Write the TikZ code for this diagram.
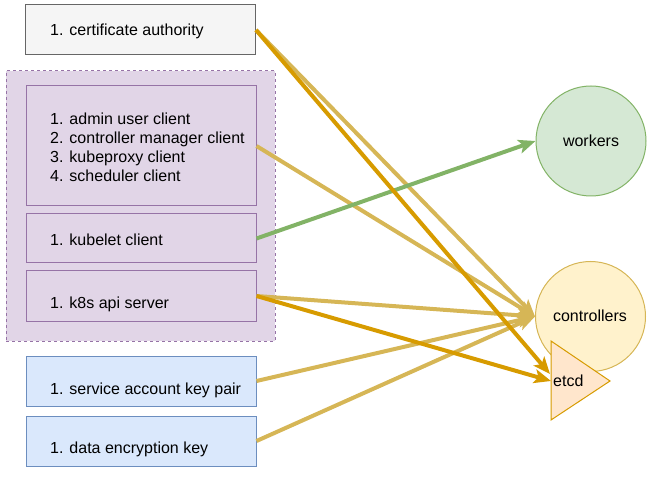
\documentclass[tikz,border=0pt]{standalone}
\usepackage{fontspec}
\setmainfont{Liberation Sans}
\usetikzlibrary{arrows.meta}
\definecolor{grayfill}{HTML}{F5F5F5}
\definecolor{graydraw}{HTML}{666666}
\definecolor{purpfill}{HTML}{E1D5E7}
\definecolor{purpdraw}{HTML}{9673A6}
\definecolor{bluefill}{HTML}{DAE8FC}
\definecolor{bluedraw}{HTML}{6C8EBF}
\definecolor{greenfill}{HTML}{D5E8D4}
\definecolor{greendraw}{HTML}{82B366}
\definecolor{yelfill}{HTML}{FFF2CC}
\definecolor{yeldraw}{HTML}{D6B656}
\definecolor{orfill}{HTML}{FFE6CC}
\definecolor{ordraw}{HTML}{D79B00}
\tikzset{
  box/.style={draw, line width=1pt, minimum width=230pt, inner sep=0pt},
  txt/.style={anchor=west, inner sep=0pt, font=\fontsize{16}{19}\selectfont, align=left},
  ctxt/.style={inner sep=0pt, font=\fontsize{16}{19}\selectfont},
  circ/.style={circle, draw, line width=1pt, minimum size=110pt, inner sep=0pt},
  conn/.style={line width=4pt, -{Stealth[length=17pt,width=14pt,inset=4pt]}},
}
\begin{document}
\begin{tikzpicture}[x=1pt,y=-1pt]
\useasboundingbox (0,0) rectangle (651,497);
% group
\node[draw=purpdraw, fill=purpfill, line width=1pt, dash pattern=on 3pt off 3pt,
      minimum width=269pt, minimum height=270pt, inner sep=0pt] (grp) at (140.5,206) {};
% boxes
\node[box, draw=graydraw, fill=grayfill, minimum height=50pt] (ca) at (140.5,30) {};
\node[txt] (catxt) at (50,31.5) {1. certificate authority};
\node[box, draw=purpdraw, fill=purpfill, minimum height=120pt] (cl) at (141,146) {};
\node[txt] (cltxt) at (50,147.5) {1. admin user client\\2. controller manager client\\3. kubeproxy client\\4. scheduler client};
\node[box, draw=purpdraw, fill=purpfill, minimum height=49pt] (kc) at (141,238.5) {};
\node[txt] (kctxt) at (50,240) {1. kubelet client};
\node[box, draw=purpdraw, fill=purpfill, minimum height=50pt] (api) at (141,296) {};
\node[txt] (apitxt) at (50,304) {1. k8s api server};
\node[box, draw=bluedraw, fill=bluefill, minimum height=50pt] (sa) at (141,381) {};
\node[txt] (satxt) at (50,390) {1. service account key pair};
\node[box, draw=bluedraw, fill=bluefill, minimum height=50pt] (dek) at (141,441) {};
\node[txt] (dektxt) at (50,449) {1. data encryption key};
% circles
\node[circ, draw=greendraw, fill=greenfill] (wk) at (591,141) {};
\node[ctxt] (wktxt) at (591,141) {workers};
\node[circ, draw=yeldraw, fill=yelfill] (ctrl) at (590.5,316.5) {};
\node[ctxt] (ctrltxt) at (590,316) {controllers};
% etcd triangle
\draw[draw=ordraw, fill=orfill, line width=1pt] (551,341) -- (610,381) -- (551,420) -- cycle;
\coordinate (etcdA) at (550,374);
\coordinate (etcdB) at (551,381);
\node[ctxt, anchor=west] (etcd) at (553,381) {etcd};
% connectors
\draw[conn, draw=yeldraw] (ca.east) -- (ctrl.west);
\draw[conn, draw=yeldraw] (cl.east) -- (ctrl.west);
\draw[conn, draw=yeldraw] (api.east) -- (ctrl.west);
\draw[conn, draw=yeldraw] (sa.east) -- (ctrl.west);
\draw[conn, draw=yeldraw] (dek.east) -- (ctrl.west);
\draw[conn, draw=greendraw] (kc.east) -- (wk.west);
\draw[conn, draw=ordraw] (ca.east) -- (etcdA);
\draw[conn, draw=ordraw] (api.east) -- (etcdB);
\end{tikzpicture}
\end{document}
